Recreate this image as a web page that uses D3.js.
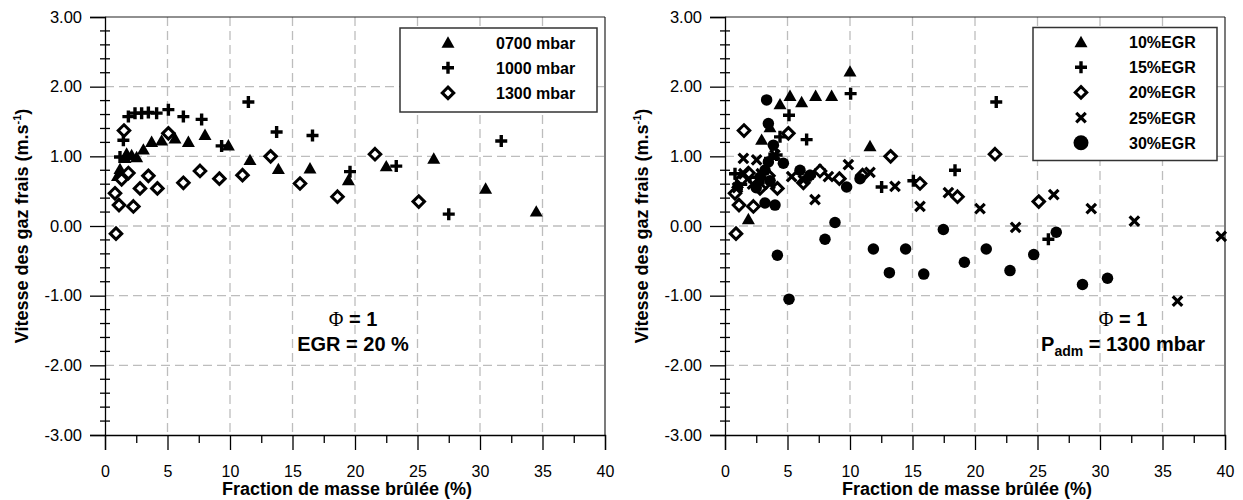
<!DOCTYPE html>
<html>
<head>
<meta charset="utf-8">
<script src="https://cdnjs.cloudflare.com/ajax/libs/d3/7.8.5/d3.min.js"></script>
<style>
  html, body { margin: 0; padding: 0; background: #fff; }
  svg { display: block; font-family: "Liberation Sans", Arial, sans-serif; }
</style>
</head>
<body>
<svg id="chart" width="1243" height="500"></svg>
<script>
// ---------------- DATA ----------------
const xTicks = [0, 5, 10, 15, 20, 25, 30, 35, 40];
const yTicks = [-3, -2, -1, 0, 1, 2, 3];
const xTitle = "Fraction de masse brûlée (%)";
const yTitle = "Vitesse des gaz frais (m.s";

// Left panel: pressure series (EGR = 20 %)
const p0700X = [1.0, 1.2, 1.6, 1.73, 2.13, 2.53, 3.07, 3.73, 4.53, 5.6, 6.67, 8.0, 9.87, 11.6, 13.87, 16.4, 19.47, 22.5, 26.3, 30.45, 34.5];
const p0700Y = [0.72, 0.82, 0.98, 1.04, 1.02, 0.99, 1.10, 1.21, 1.23, 1.26, 1.21, 1.31, 1.16, 0.95, 0.82, 0.83, 0.66, 0.86, 0.97, 0.54, 0.21];
const p1000X = [1.2, 1.47, 1.87, 2.4, 2.93, 3.47, 4.13, 5.07, 6.27, 7.73, 9.33, 11.47, 13.73, 16.6, 19.6, 23.3, 27.5, 31.7];
const p1000Y = [0.99, 1.23, 1.57, 1.62, 1.62, 1.63, 1.62, 1.67, 1.57, 1.53, 1.15, 1.78, 1.35, 1.30, 0.78, 0.86, 0.17, 1.22];
const p1300X = [0.8, 0.88, 1.12, 1.33, 1.52, 1.87, 2.27, 2.8, 3.47, 4.19, 5.07, 6.27, 7.6, 9.15, 11.0, 13.25, 15.6, 18.6, 21.6, 25.1];
const p1300Y = [0.47, -0.11, 0.30, 0.67, 1.37, 0.76, 0.28, 0.54, 0.72, 0.54, 1.33, 0.62, 0.79, 0.68, 0.73, 1.00, 0.61, 0.42, 1.03, 0.35];

// Right panel: EGR series (Padm = 1300 mbar)
const egr10X = [1.0, 1.87, 2.93, 3.6, 4.4, 5.2, 6.13, 7.25, 8.53, 10.0, 11.6];
const egr10Y = [0.62, 0.10, 1.24, 1.42, 1.75, 1.87, 1.78, 1.87, 1.87, 2.22, 1.15];
const egr15X = [0.8, 1.3, 2.0, 2.7, 3.3, 3.6, 4.13, 4.4, 5.12, 6.53, 6.8, 7.6, 10.05, 12.53, 15.07, 18.4, 21.7, 25.87];
const egr15Y = [0.75, 0.60, 0.70, 0.62, 0.75, 0.97, 1.02, 1.28, 1.59, 1.24, 0.72, 0.80, 1.90, 0.56, 0.65, 0.80, 1.78, -0.19];
const egr20X = p1300X.slice();
const egr20Y = p1300Y.slice();
const egr25X = [1.0, 1.47, 1.5, 2.2, 2.53, 2.9, 3.6, 4.0, 5.33, 6.27, 7.2, 8.27, 9.87, 11.6, 13.6, 15.6, 17.87, 20.4, 23.25, 26.3, 29.3, 32.75, 36.2, 39.7];
const egr25Y = [0.55, 0.97, 0.75, 0.60, 0.95, 0.75, 0.60, 1.02, 0.71, 0.66, 0.38, 0.71, 0.88, 0.77, 0.57, 0.28, 0.48, 0.25, -0.02, 0.45, 0.25, 0.07, -1.08, -0.15];
const egr30X = [2.5, 2.8, 3.2, 3.2, 3.33, 3.47, 3.47, 3.6, 3.87, 4.0, 4.19, 4.67, 5.12, 6.0, 6.8, 8.0, 8.8, 9.73, 10.8, 11.87, 13.15, 14.45, 15.9, 17.47, 19.15, 20.9, 22.8, 24.7, 26.5, 28.6, 30.6];
const egr30Y = [0.55, 0.70, 0.80, 0.33, 1.81, 1.47, 0.92, 0.65, 1.16, 0.30, -0.42, 0.90, -1.05, 0.80, 0.73, -0.19, 0.05, 0.56, 0.68, -0.33, -0.67, -0.33, -0.69, -0.05, -0.52, -0.33, -0.64, -0.41, -0.09, -0.84, -0.75];

const leftLabels = ["0700 mbar", "1000 mbar", "1300 mbar"];
const rightLabels = ["10%EGR", "15%EGR", "20%EGR", "25%EGR", "30%EGR"];

// ---------------- SYMBOLS ----------------
const triType = { draw(ctx, s) { const w = Math.sqrt(s) / 2, h = w * 0.95;
  ctx.moveTo(0, -h); ctx.lineTo(w, h * 0.85); ctx.lineTo(-w, h * 0.85); ctx.closePath(); } };
const plusType = { draw(ctx, s) { const r = Math.sqrt(s) / 2;
  ctx.moveTo(-r, 0); ctx.lineTo(r, 0); ctx.moveTo(0, -r); ctx.lineTo(0, r); } };
const timesType = { draw(ctx, s) { const r = Math.sqrt(s) / 2;
  ctx.moveTo(-r, -r); ctx.lineTo(r, r); ctx.moveTo(-r, r); ctx.lineTo(r, -r); } };
const diamType = { draw(ctx, s) { const r = Math.sqrt(s) / 2;
  ctx.moveTo(0, -r); ctx.lineTo(r, 0); ctx.lineTo(0, r); ctx.lineTo(-r, 0); ctx.closePath(); } };
const circType = { draw(ctx, s) { const r = Math.sqrt(s) / 2;
  ctx.moveTo(r, 0); ctx.arc(0, 0, r, 0, 2 * Math.PI); } };

const styles = {
  tri:   { type: triType,   size: 13 * 13, fill: "#000", stroke: "none", sw: 0 },
  plus:  { type: plusType,  size: 12 * 12, fill: "none", stroke: "#000", sw: 3.4 },
  diam:  { type: diamType,  size: 11.5 * 11.5, fill: "#fff", stroke: "#000", sw: 3 },
  times: { type: timesType, size: 9.5 * 9.5, fill: "none", stroke: "#000", sw: 3.2 },
  circ:  { type: circType,  size: 11.5 * 11.5, fill: "#000", stroke: "none", sw: 0 }
};

// ---------------- LAYOUT ----------------
const svg = d3.select("#chart");
const yTop = 17, yBot = 435;
const y = d3.scaleLinear().domain([-3, 3]).range([yBot, yTop]);

function panel(x0, x1, series, legend, note) {
  const x = d3.scaleLinear().domain([0, 40]).range([x0, x1]);
  const g = svg.append("g");

  // grid
  const grid = g.append("g").attr("stroke", "#bdbdbd").attr("stroke-width", 1.3).attr("stroke-dasharray", "9,5");
  grid.selectAll("line.vx").data(xTicks.filter(d => d > 0 && d < 40)).enter().append("line")
    .attr("x1", d => x(d)).attr("x2", d => x(d)).attr("y1", yTop).attr("y2", yBot);
  grid.selectAll("line.hy").data(yTicks.filter(d => d > -3 && d < 3)).enter().append("line")
    .attr("y1", d => y(d)).attr("y2", d => y(d)).attr("x1", x0).attr("x2", x1);

  // frame top/right
  g.append("line").attr("x1", x0).attr("x2", x1).attr("y1", yTop).attr("y2", yTop).attr("stroke", "#222").attr("stroke-width", 1.2);
  g.append("line").attr("x1", x1).attr("x2", x1).attr("y1", yTop).attr("y2", yBot).attr("stroke", "#222").attr("stroke-width", 1.2);

  // x axis
  const xa = g.append("g").attr("transform", `translate(0,${yBot})`)
    .call(d3.axisBottom(x).tickValues(xTicks).tickSize(15).tickPadding(16).tickFormat(d3.format("d")));
  xa.select(".domain").attr("stroke", "#000").attr("stroke-width", 1.3);
  xa.selectAll(".tick line").attr("stroke", "#000").attr("stroke-width", 1.3);
  xa.selectAll("text").attr("font-size", 16).attr("fill", "#000").attr("font-family", "Liberation Sans, Arial, sans-serif");
  const xm = g.append("g").attr("transform", `translate(0,${yBot})`)
    .call(d3.axisBottom(x).tickValues(d3.range(2.5, 40, 5)).tickSize(8).tickFormat(""));
  xm.select(".domain").remove();
  xm.selectAll(".tick line").attr("stroke", "#000").attr("stroke-width", 1.3);

  // y axis
  const ya = g.append("g").attr("transform", `translate(${x0},0)`)
    .call(d3.axisLeft(y).tickValues(yTicks).tickSize(15).tickPadding(8).tickFormat(d => d.toFixed(2)));
  ya.select(".domain").attr("stroke", "#000").attr("stroke-width", 1.3);
  ya.selectAll(".tick line").attr("stroke", "#000").attr("stroke-width", 1.3);
  ya.selectAll("text").attr("font-size", 16.5).attr("fill", "#000").attr("font-family", "Liberation Sans, Arial, sans-serif");
  const minorY = d3.range(-2.8, 3, 0.2).filter(d => Math.abs(d - Math.round(d)) > 0.05);
  g.append("g").selectAll("line").data(minorY).enter().append("line")
    .attr("x1", x0 - 5).attr("x2", x0 + 5).attr("y1", d => y(d)).attr("y2", d => y(d))
    .attr("stroke", "#000").attr("stroke-width", 1.3);

  // titles
  g.append("text").attr("x", (x0 + x1) / 2 - 8).attr("y", 495).attr("text-anchor", "middle")
    .attr("font-size", 18).attr("font-weight", "bold").text(xTitle);
  const yt = g.append("text").attr("transform", `translate(${x0 - 77},${(yTop + yBot) / 2}) rotate(-90)`)
    .attr("text-anchor", "middle").attr("font-size", 18).attr("font-weight", "bold");
  yt.append("tspan").text(yTitle);
  yt.append("tspan").attr("font-size", 11).attr("dy", -7).text("-1");
  yt.append("tspan").attr("dy", 7).text(")");

  // points
  series.forEach(s => {
    const st = styles[s.sym];
    const pts = s.xs.map((v, i) => [v, s.ys[i]]);
    g.append("g").selectAll("path").data(pts).enter().append("path")
      .attr("transform", d => `translate(${x(d[0])},${y(d[1])})`)
      .attr("d", d3.symbol().type(st.type).size(st.size))
      .attr("fill", st.fill).attr("stroke", st.stroke).attr("stroke-width", st.sw);
  });

  // legend
  const lg = g.append("g");
  lg.append("rect").attr("x", legend.x).attr("y", legend.y).attr("width", legend.w).attr("height", legend.h)
    .attr("fill", "#fff").attr("stroke", "#333").attr("stroke-width", 1.5);
  series.forEach((s, i) => {
    const st = styles[s.sym];
    const cy = legend.y + 14.5 + i * 25.2;
    lg.append("path").attr("transform", `translate(${legend.x + 48},${cy})`)
      .attr("d", d3.symbol().type(st.type).size(st.size * (s.sym === "circ" ? 1.7 : 1.0)))
      .attr("fill", st.fill).attr("stroke", st.stroke).attr("stroke-width", st.sw);
    lg.append("text").attr("x", legend.x + 96).attr("y", cy + 6).attr("font-size", 16)
      .attr("font-weight", "bold").text(s.label);
  });

  // annotation
  const ng = g.append("g").attr("font-size", 20).attr("font-weight", "bold").attr("text-anchor", "middle");
  const t1 = ng.append("text").attr("x", note.x).attr("y", 326);
  t1.append("tspan").attr("font-family", "Liberation Serif, Times New Roman, serif").attr("font-weight", "normal").text("Φ");
  t1.append("tspan").text(" = 1");
  const t2 = ng.append("text").attr("x", note.x).attr("y", 351);
  if (note.sub) {
    t2.append("tspan").text("P");
    t2.append("tspan").attr("font-size", 14).attr("dy", 5).text(note.sub);
    t2.append("tspan").attr("dy", -5).text(note.line2);
  } else {
    t2.text(note.line2);
  }
}

panel(105, 605, [
  { xs: p0700X, ys: p0700Y, sym: "tri", label: leftLabels[0] },
  { xs: p1000X, ys: p1000Y, sym: "plus", label: leftLabels[1] },
  { xs: p1300X, ys: p1300Y, sym: "diam", label: leftLabels[2] }
], { x: 400, y: 28, w: 197, h: 84 }, { x: 353, line2: "EGR = 20 %" });

panel(725, 1225, [
  { xs: egr10X, ys: egr10Y, sym: "tri", label: rightLabels[0] },
  { xs: egr15X, ys: egr15Y, sym: "plus", label: rightLabels[1] },
  { xs: egr20X, ys: egr20Y, sym: "diam", label: rightLabels[2] },
  { xs: egr25X, ys: egr25Y, sym: "times", label: rightLabels[3] },
  { xs: egr30X, ys: egr30Y, sym: "circ", label: rightLabels[4] }
], { x: 1033, y: 27.5, w: 184, h: 133 }, { x: 1123, sub: "adm", line2: " = 1300 mbar" });
</script>
</body>
</html>
